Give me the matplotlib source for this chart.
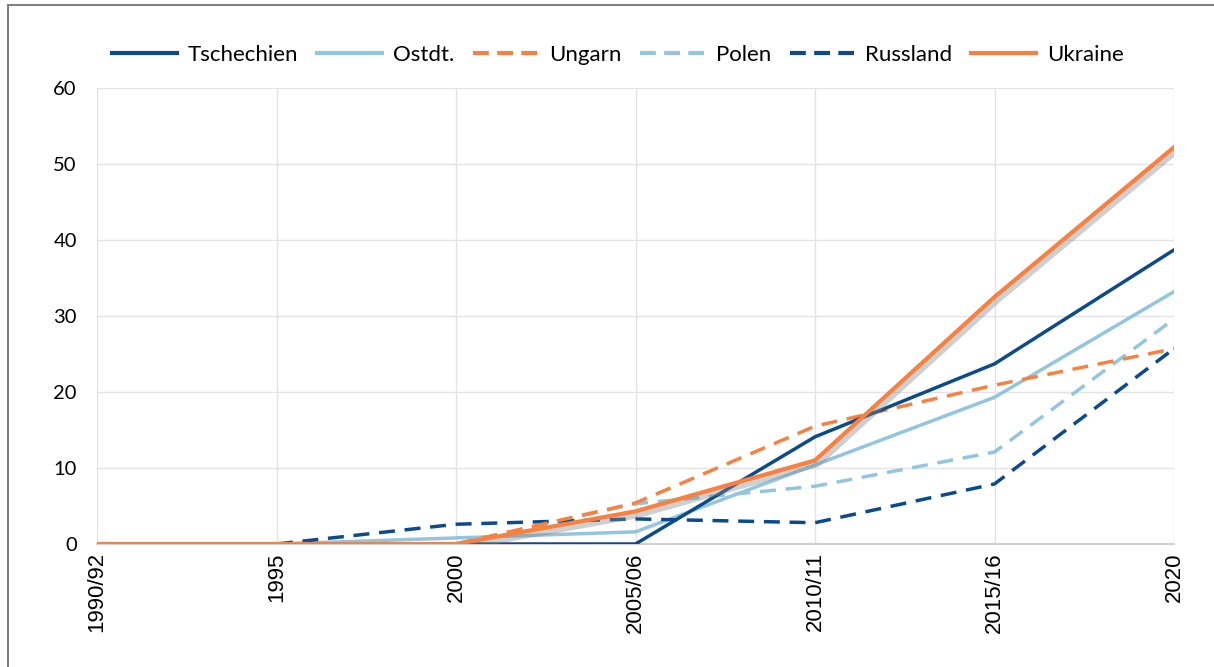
import numpy as np
import matplotlib.pyplot as plt
import matplotlib.patheffects as pe
from matplotlib.lines import Line2D

plt.rcParams['font.family'] = ['Lato', 'DejaVu Sans']

perioden = ['1990/92', '1995', '2000', '2005/06', '2010/11', '2015/16', '2020']
tschechien = [0, 0, 0, 0, 14.1, 23.7, 38.7]
ostdt = [0, 0, 0.8, 1.6, 10.4, 19.3, 33.2]
ungarn = [0, 0, 0, 5.4, 15.5, 20.9, 25.7]
polen = [0, 0, 0, 5.3, 7.6, 12.1, 29.6]
russland = [0, 0, 2.6, 3.3, 2.8, 7.9, 25.7]
ukraine = [0, 0, 0, 4.3, 11.0, 32.5, 52.2]

navy = '#0b4a8b'
hell = '#92c5de'
orange = '#f9803e'
gestr = (0, (4.6, 2.8))

fig = plt.figure(figsize=(12.14, 6.67), dpi=100)
ax = fig.add_axes([97/1214, 1-544/667, (1174-97)/1214, (544-88)/667])

x = np.arange(len(perioden))
ax.plot(x, ostdt, color=hell, lw=2.5, label='Ostdt.', zorder=3)
ax.plot(x, polen, color=hell, lw=2.5, ls=gestr, label='Polen', zorder=3)
ax.plot(x, russland, color=navy, lw=2.5, ls=gestr, label='Russland', zorder=3)
ax.plot(x, ungarn, color=orange, lw=2.5, ls=gestr, label='Ungarn', zorder=3)
ax.plot(x, tschechien, color=navy, lw=2.5, label='Tschechien', zorder=4)
ax.plot(x, ukraine, color=orange, lw=3, label='Ukraine', zorder=5,
        path_effects=[pe.SimpleLineShadow(offset=(1.5, -2.5), shadow_color='#888888', alpha=0.4, linewidth=5),
                      pe.Normal()])

ax.set_xlim(0, len(perioden) - 1)
ax.set_ylim(0, 60)
ax.set_yticks(range(0, 61, 10))
ax.set_xticks(x)
ax.set_xticklabels(perioden, rotation=90, family=['Liberation Sans', 'DejaVu Sans'], fontsize=16)
ax.tick_params(axis='y', labelsize=14.5, length=0, pad=14.5)
ax.tick_params(axis='x', length=0, pad=6)
ax.grid(True, color='#e3e3e3', lw=1)
ax.set_axisbelow(True)
for s in ['top', 'right', 'left']:
    ax.spines[s].set_visible(False)
ax.spines['bottom'].set_color('#d0d0d0')
ax.spines['bottom'].set_linewidth(1.5)

handles = [
    Line2D([], [], color=navy, lw=3),
    Line2D([], [], color=hell, lw=3),
    Line2D([], [], color=orange, lw=3, ls=(0, (3.8, 2))),
    Line2D([], [], color=hell, lw=3, ls=(0, (3.8, 2))),
    Line2D([], [], color=navy, lw=3, ls=(0, (3.8, 2))),
    Line2D([], [], color=orange, lw=3),
]
labels = ['Tschechien', 'Ostdt.', 'Ungarn', 'Polen', 'Russland', 'Ukraine']
fig.legend(handles, labels, loc='center', bbox_to_anchor=(618/1214, 1-55/667), ncol=6,
           frameon=False, fontsize=16, handlelength=2.9, handletextpad=0.5, columnspacing=0.85)

# rahmen
fig.add_artist(Line2D([8/1214, 8/1214], [0, 1-5/667], color='#808080', lw=1.5))
fig.add_artist(Line2D([8/1214, 1], [1-5/667, 1-5/667], color='#808080', lw=1.5))

fig.savefig('out.png', dpi=100)
